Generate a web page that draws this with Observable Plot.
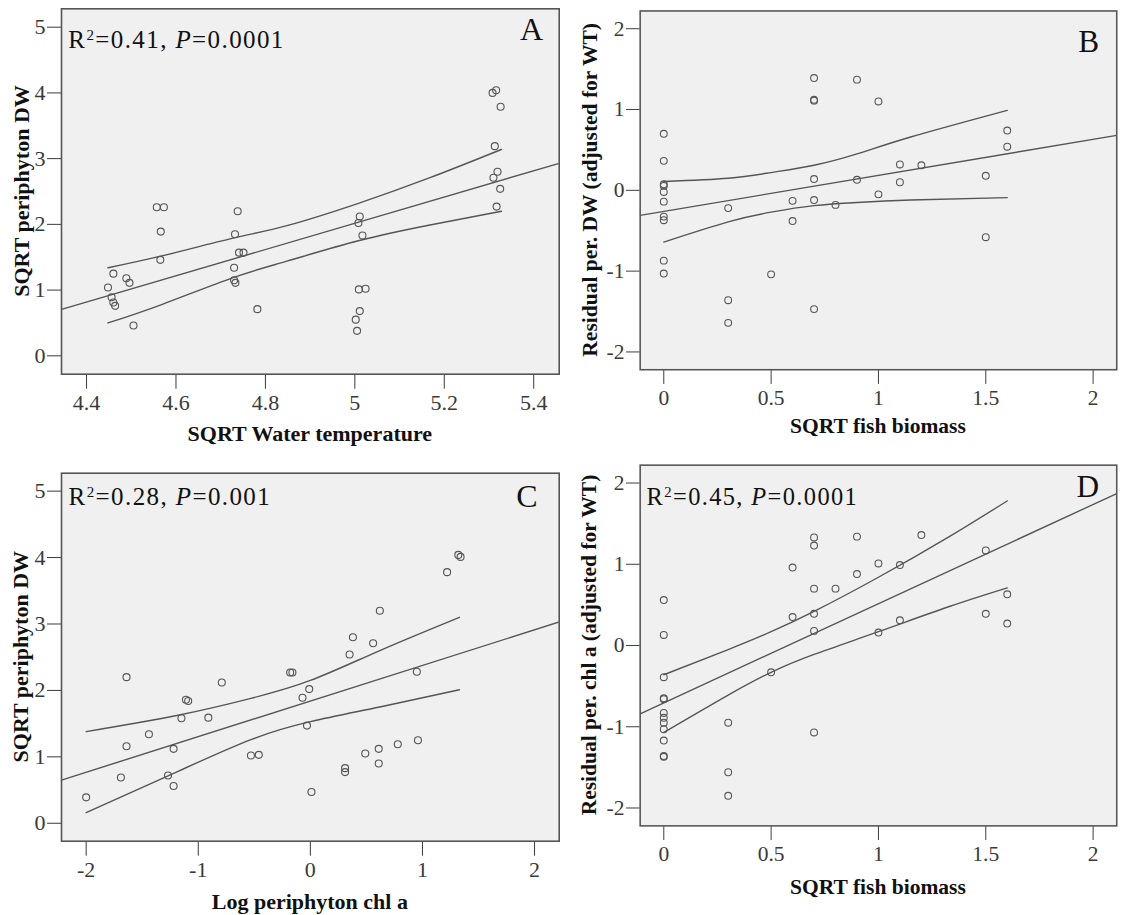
<!DOCTYPE html>
<html><head><meta charset="utf-8">
<script src="https://cdn.jsdelivr.net/npm/d3@7"></script>
<script src="https://cdn.jsdelivr.net/npm/@observablehq/plot@0.6"></script>
<style>
body{margin:0;background:#fff;}
#wrap{position:relative;width:1127px;height:915px;overflow:hidden;background:#fff;}
.panel{position:absolute;}
</style></head><body><div id="wrap"></div>
<script>
// ---------- Panel A: SQRT periphyton DW vs SQRT Water temperature ----------
const aX = [4.448,4.460,4.456,4.460,4.464,4.489,4.496,4.505,4.557,4.573,4.566,4.565,4.738,4.732,4.741,4.751,4.730,4.730,4.733,4.782,5.011,5.008,5.017,5.009,5.024,5.011,5.002,5.005,5.308,5.316,5.326,5.313,5.319,5.310,5.325,5.317];
const aY = [1.04,1.25,0.89,0.81,0.76,1.18,1.11,0.46,2.26,2.26,1.89,1.46,2.20,1.85,1.57,1.57,1.34,1.15,1.11,0.71,2.12,2.02,1.83,1.01,1.02,0.68,0.55,0.38,4.00,4.04,3.79,3.19,2.80,2.71,2.54,2.27];
const aFitX = [4.346, 5.455];
const aFitY = [0.71, 2.925];
const aCiX = [4.448, 4.568, 4.728, 4.848, 5.008, 5.168, 5.328];
const aUpY = [1.34, 1.52, 1.79, 1.98, 2.32, 2.71, 3.14];
const aLoY = [0.50, 0.78, 1.19, 1.44, 1.75, 1.99, 2.20];
const aXTicks = [4.4, 4.6, 4.8, 5, 5.2, 5.4];
const aYTicks = [0, 1, 2, 3, 4, 5];

// ---------- Panel B: Residual per. DW vs SQRT fish biomass ----------
const bX = [0,0,0,0,0,0,0,0,0,0, 0.3,0.3,0.3, 0.5, 0.6,0.6, 0.7,0.7,0.7,0.7,0.7,0.7, 0.8, 0.9,0.9, 1.0,1.0, 1.1,1.1, 1.2, 1.5,1.5, 1.6,1.6];
const bY = [0.70,0.365,0.075,0.055,-0.02,-0.14,-0.325,-0.37,-0.87,-1.03, -0.22,-1.36,-1.64, -1.04, -0.13,-0.38, 1.39,1.12,1.11,0.14,-0.12,-1.47, -0.18, 1.37,0.13, 1.10,-0.05, 0.32,0.10, 0.31, 0.18,-0.58, 0.74,0.54];
const bFitX = [-0.11, 2.11];
const bFitY = [-0.31, 0.68];
const bCiX = [0, 0.3, 0.5, 0.7, 0.9, 1.15, 1.6];
const bUpY = [0.11, 0.15, 0.22, 0.31, 0.45, 0.66, 0.99];
const bLoY = [-0.64, -0.39, -0.27, -0.19, -0.15, -0.12, -0.09];
const bXTicks = [0, 0.5, 1, 1.5, 2];
const bYTicks = [-2, -1, 0, 1, 2];

// ---------- Panel C: SQRT periphyton DW vs Log periphyton chl a ----------
const cX = [-2.00,-1.69,-1.64,-1.64,-1.44,-1.27,-1.22,-1.22,-1.15,-1.11,-1.09,-0.91,-0.79,-0.53,-0.46,-0.18,-0.16,-0.07,-0.01,-0.03,0.01,0.31,0.31,0.35,0.38,0.49,0.56,0.61,0.61,0.62,0.78,0.95,0.96,1.22,1.32,1.34];
const cY = [0.39,0.69,2.20,1.16,1.34,0.72,1.12,0.56,1.58,1.86,1.84,1.59,2.12,1.02,1.03,2.27,2.27,1.89,2.02,1.47,0.47,0.83,0.77,2.54,2.80,1.05,2.71,1.12,0.90,3.20,1.19,2.28,1.25,3.78,4.04,4.01];
const cFitX = [-2.22, 2.22];
const cFitY = [0.65, 3.03];
const cCiX = [-2.0, -1.17, -0.53, 0, 0.62, 1.33];
const cUpY = [1.38, 1.63, 1.88, 2.15, 2.60, 3.10];
const cLoY = [0.16, 0.79, 1.26, 1.53, 1.75, 2.01];
const cXTicks = [-2, -1, 0, 1, 2];
const cYTicks = [0, 1, 2, 3, 4, 5];

// ---------- Panel D: Residual per. chl a vs SQRT fish biomass ----------
const dX = [0,0,0,0,0,0,0,0,0,0,0,0, 0.3,0.3,0.3, 0.5, 0.6,0.6, 0.7,0.7,0.7,0.7,0.7,0.7, 0.8, 0.9,0.9, 1.0,1.0, 1.1,1.1, 1.2, 1.5,1.5, 1.6,1.6];
const dY = [0.56,0.13,-0.39,-0.65,-0.66,-0.83,-0.89,-0.95,-1.03,-1.17,-1.36,-1.37, -0.95,-1.56,-1.85, -0.33, 0.96,0.35, 1.33,1.23,0.70,0.39,0.18,-1.07, 0.70, 1.34,0.88, 1.01,0.16, 0.99,0.31, 1.36, 1.17,0.39, 0.63,0.27];
const dFitX = [-0.11, 2.11];
const dFitY = [-0.84, 1.87];
const dCiX = [0, 0.3, 0.5, 0.7, 1.0, 1.33, 1.6];
const dUpY = [-0.36, -0.05, 0.17, 0.42, 0.84, 1.34, 1.78];
const dLoY = [-1.07, -0.61, -0.33, -0.11, 0.17, 0.48, 0.71];
const dXTicks = [0, 0.5, 1, 1.5, 2];
const dYTicks = [-2, -1, 0, 1, 2];

// ---------- texts ----------
const yLabels = ["SQRT periphyton DW", "Residual per. DW (adjusted for WT)", "SQRT periphyton DW", "Residual per. chl a (adjusted for WT)"];
const xLabels = ["SQRT Water temperature", "SQRT fish biomass", "Log periphyton chl a", "SQRT fish biomass"];
const panelLetters = ["A", "B", "C", "D"];
const r2Values = ["0.41", null, "0.28", "0.45"];
const pValues = ["0.0001", null, "0.001", "0.0001"];

const FONT = '"Liberation Serif", "Times New Roman", Times, serif';
const INK = "#555";

const zip = (xs, ys) => xs.map((x, i) => ({x, y: ys[i]}));

const panels = [
  {pts: zip(aX, aY), fit: zip(aFitX, aFitY), up: zip(aCiX, aUpY), lo: zip(aCiX, aLoY), xTicks: aXTicks, yTicks: aYTicks,
   xDomain: [4.344, 5.457], yDomain: [-0.28, 5.28],
   left: 0, top: 0, w: 560, h: 450, ml: 61, mr: 1.3, mt: 8.3, mb: 76.3,
   ylx: 29, xlb: 441, letR: 543, letB: 39.5, annX: 68.3, annB: 47.5},
  {pts: zip(bX, bY), fit: zip(bFitX, bFitY), up: zip(bCiX, bUpY), lo: zip(bCiX, bLoY), xTicks: bXTicks, yTicks: bYTicks,
   xDomain: [-0.11, 2.11], yDomain: [-2.22, 2.22],
   left: 560, top: 0, w: 580, h: 450, ml: 81.5, mr: 11, mt: 10.7, mb: 72.3,
   ylx: 38, xlb: 443, letR: 551.5, letB: 53.3},
  {pts: zip(cX, cY), fit: zip(cFitX, cFitY), up: zip(cCiX, cUpY), lo: zip(cCiX, cLoY), xTicks: cXTicks, yTicks: cYTicks,
   xDomain: [-2.22, 2.22], yDomain: [-0.27, 5.27],
   left: 0, top: 450, w: 560, h: 465, ml: 61, mr: 1.3, mt: 22.7, mb: 74.3,
   ylx: 28, xlb: 459, letR: 537.5, letB: 57, annX: 68.6, annB: 55},
  {pts: zip(dX, dY), fit: zip(dFitX, dFitY), up: zip(dCiX, dUpY), lo: zip(dCiX, dLoY), xTicks: dXTicks, yTicks: dYTicks,
   xDomain: [-0.11, 2.11], yDomain: [-2.22, 2.22],
   left: 560, top: 450, w: 580, h: 465, ml: 81.5, mr: 11, mt: 15, mb: 81,
   ylx: 36.5, xlb: 454, letR: 551.5, letB: 48.3, annX: 88.6, annB: 56}
];

const wrap = document.getElementById("wrap");

panels.forEach((p, i) => {
  const svg = Plot.plot({
    width: p.w, height: p.h,
    marginLeft: p.ml, marginRight: p.mr, marginTop: p.mt, marginBottom: p.mb,
    style: {fontFamily: FONT, fontSize: "22px", color: "#3a3a3a", background: "transparent", overflow: "visible"},
    x: {domain: p.xDomain, ticks: p.xTicks, tickFormat: d => String(d), tickSize: 15, tickPadding: 5, label: null},
    y: {domain: p.yDomain, ticks: p.yTicks, tickFormat: d => String(d), tickSize: 14, tickPadding: 2, label: null},
    marks: [
      Plot.frame({fill: "#f0f0f0", stroke: "none"}),
      Plot.line(p.fit, {x: "x", y: "y", stroke: INK, strokeWidth: 1.4, clip: true}),
      Plot.line(p.up, {x: "x", y: "y", curve: "natural", stroke: INK, strokeWidth: 1.4}),
      Plot.line(p.lo, {x: "x", y: "y", curve: "natural", stroke: INK, strokeWidth: 1.4}),
      Plot.dot(p.pts, {x: "x", y: "y", r: 3.5, stroke: INK, fill: "none", strokeWidth: 1.1}),
      Plot.frame({stroke: INK, strokeWidth: 1.6})
    ]
  });
  const div = document.createElement("div");
  div.className = "panel";
  div.style.left = p.left + "px";
  div.style.top = p.top + "px";
  div.appendChild(svg);
  wrap.appendChild(div);

  const s = d3.select(svg);
  // y label
  s.append("text")
    .attr("transform", `translate(${p.ylx},${(p.mt + p.h - p.mb) / 2}) rotate(-90)`)
    .attr("text-anchor", "middle").attr("font-weight", "bold").attr("font-size", 22)
    .attr("fill", "#111").text(yLabels[i]);
  // x label
  s.append("text")
    .attr("x", (p.ml + p.w - p.mr) / 2).attr("y", p.xlb)
    .attr("text-anchor", "middle").attr("font-weight", "bold").attr("font-size", 22)
    .attr("fill", "#111").text(xLabels[i]);
  // panel letter
  s.append("text")
    .attr("x", p.letR).attr("y", p.letB)
    .attr("text-anchor", "end").attr("font-size", 32).attr("fill", "#111")
    .text(panelLetters[i]);
  // annotation
  if (r2Values[i]) {
    const t = s.append("text")
      .attr("x", p.annX).attr("y", p.annB)
      .attr("text-anchor", "start")
      .attr("font-size", 25).attr("fill", "#111")
      .style("letter-spacing", "1.4px");
    t.append("tspan").text("R");
    t.append("tspan").attr("font-size", 15).attr("dy", -8).text("2");
    t.append("tspan").attr("dy", 8).text("=" + r2Values[i] + ", ");
    t.append("tspan").attr("font-style", "italic").text("P");
    t.append("tspan").text("=" + pValues[i]);
  }
});
</script>
</body></html>
